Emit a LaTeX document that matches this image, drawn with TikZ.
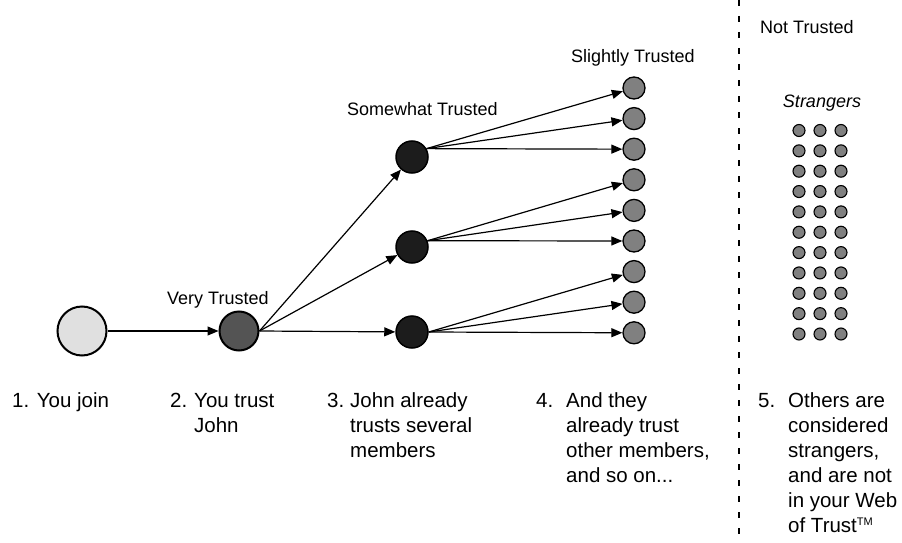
\documentclass[tikz,border=0pt]{standalone}
\usepackage{fontspec}
\setmainfont{Liberation Sans}
\usetikzlibrary{arrows.meta}
\begin{document}
\begin{tikzpicture}[x=1pt,y=-1pt,
  font=\fontsize{18}{22}\selectfont,
  member/.style={circle,draw=black,inner sep=0pt,line width=1.3pt},
  newcomer/.style={member,minimum size=49pt,fill=black!12,line width=2pt},
  verytrusted/.style={member,minimum size=39pt,fill=black!67,line width=2pt},
  somewhat/.style={member,minimum size=32pt,fill=black!89,line width=1.5pt},
  slightly/.style={member,minimum size=22pt,fill=black!50},
  stranger/.style={member,minimum size=12pt,fill=black!50,line width=1.1pt},
  link/.style={-{Triangle[length=11pt,width=9pt]},line width=1.2pt},
  lbl/.style={anchor=base west,inner sep=0pt},
  caption/.style={lbl,font=\fontsize{20.5}{24}\selectfont},
  divider/.style={line width=1.2pt,dash pattern=on 6pt off 10pt},
]
\useasboundingbox (0,0) rectangle (902,543);

% trust chain
\node[newcomer] (join) at (82,331) {};
\node[verytrusted] (john) at (239,331) {};
\node[somewhat] (s1) at (412,157) {};
\node[somewhat] (s2) at (412,247) {};
\node[somewhat] (s3) at (412,332) {};
\foreach \k in {1,...,9}
  \node[slightly] (t\k) at (634,{88+30.6*(\k-1)}) {};

\draw[link] (join.east) -- (john.west);
\draw[link] (john.east) -- (s1);
\draw[link] (john.east) -- (s2);
\draw[link] (john.east) -- (s3);
\foreach \k in {1,2,3} \draw[link] (s1.30) -- (t\k);
\foreach \k in {4,5,6} \draw[link] (s2.22) -- (t\k);
\foreach \k in {7,8,9} \draw[link] (s3.east) -- (t\k);

% level labels
\node[lbl] (lvt) at (167,304) {Very Trusted};
\node[lbl] (lswt) at (347,115) {Somewhat Trusted};
\node[lbl] (lslt) at (571,63) {Slightly Trusted};
\node[lbl] (lnt) at (760,34) {Not Trusted};
\node[anchor=base,inner sep=0pt] (lstr) at (822,107) {\itshape Strangers};

% strangers
\foreach \c in {0,1,2}
  \foreach \r in {0,...,10}
    \node[stranger] (g-\r-\c) at ({799+21*\c},{130.5+20.35*\r}) {};

% divider
\coordinate (dtop) at (739,0);
\coordinate (dbot) at (739,543);
\draw[divider] (dtop) -- (dbot);

% step captions
\node[caption] (c1a) at (12,407) {1. You join};

\node[caption] (c2n) at (170,407) {2.};
\node[caption] (c2a) at (194,407) {You trust};
\node[caption] (c2b) at (194,432) {John};

\node[caption] (c3n) at (327,407) {3.};
\node[caption] (c3a) at (350,407) {John already};
\node[caption] (c3b) at (350,432) {trusts several};
\node[caption] (c3c) at (350,457) {members};

\node[caption] (c4n) at (536,407) {4.};
\node[caption] (c4a) at (566,407) {And they};
\node[caption] (c4b) at (566,432) {already trust};
\node[caption] (c4c) at (566,457) {other members,};
\node[caption] (c4d) at (566,482) {and so on...};

\node[caption] (c5n) at (758,407) {5.};
\node[caption] (c5a) at (788,407) {Others are};
\node[caption] (c5b) at (788,432) {considered};
\node[caption] (c5c) at (788,457) {strangers,};
\node[caption] (c5d) at (788,482) {and are not};
\node[caption] (c5e) at (788,507) {in your Web};
\node[caption] (c5f) at (788,532) {of Trust\raisebox{7pt}{\fontsize{11}{11}\selectfont TM}};
\end{tikzpicture}
\end{document}
